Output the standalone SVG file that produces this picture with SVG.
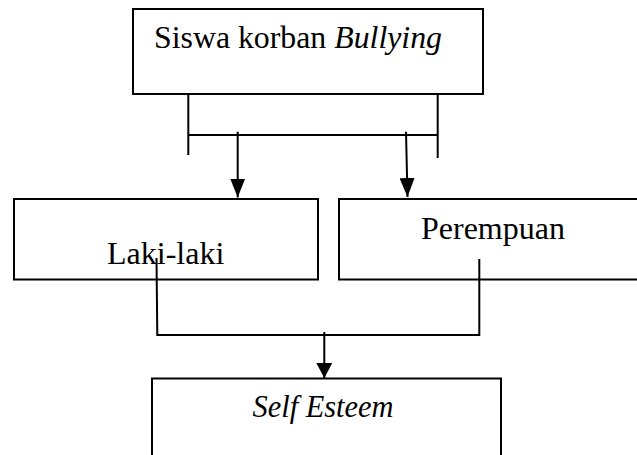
<svg xmlns="http://www.w3.org/2000/svg" width="637" height="455" viewBox="0 0 637 455">
<style>
.box{fill:#fff;stroke:#000;stroke-width:2}
.ln{fill:none;stroke:#000;stroke-width:2}
.t{font-family:"Liberation Serif","Times New Roman",serif;font-size:32px;fill:#000}
.i{font-style:italic}
</style>
<defs>
<marker id="ahTop" viewBox="0 0 19 15" refX="19" refY="7.5" markerWidth="19" markerHeight="15" markerUnits="userSpaceOnUse" orient="auto">
<path d="M0,0 L19,7.5 L0,15 z" fill="#000"/>
</marker>
<marker id="ahBot" viewBox="0 0 15 16" refX="15" refY="8" markerWidth="15" markerHeight="16" markerUnits="userSpaceOnUse" orient="auto">
<path d="M0,0 L15,8 L0,16 z" fill="#000"/>
</marker>
</defs>
<rect width="637" height="455" fill="#fff"/>
<g id="node-siswa">
<rect class="box" x="133" y="9" width="350" height="85"/>
<text class="t" x="154" y="48" textLength="288" lengthAdjust="spacingAndGlyphs">Siswa korban <tspan class="i">Bullying</tspan></text>
</g>
<g id="node-laki">
<rect class="box" x="14" y="199" width="304" height="80.5"/>
<text class="t" x="107" y="264">Laki-laki</text>
</g>
<g id="node-perempuan">
<rect class="box" x="339" y="199" width="310" height="80.5"/>
<text class="t" x="421" y="239">Perempuan</text>
</g>
<g id="node-self">
<rect class="box" x="152" y="378.5" width="349" height="100"/>
<text class="t i" x="252.5" y="417" textLength="141" lengthAdjust="spacingAndGlyphs">Self Esteem</text>
</g>
<g id="connectors">
<path class="ln" d="M188.3,93 V155 M437.7,94 V158 M188.3,135 H437.7"/>
<line class="ln" x1="237.7" y1="131.7" x2="237.7" y2="197.5" marker-end="url(#ahTop)"/>
<line class="ln" x1="406" y1="131.7" x2="407.5" y2="197" marker-end="url(#ahTop)"/>
<path class="ln" d="M156.5,258 L157.3,335 H479.3 V259"/>
<line class="ln" x1="324.3" y1="332" x2="324.3" y2="378" marker-end="url(#ahBot)"/>
</g>
</svg>
